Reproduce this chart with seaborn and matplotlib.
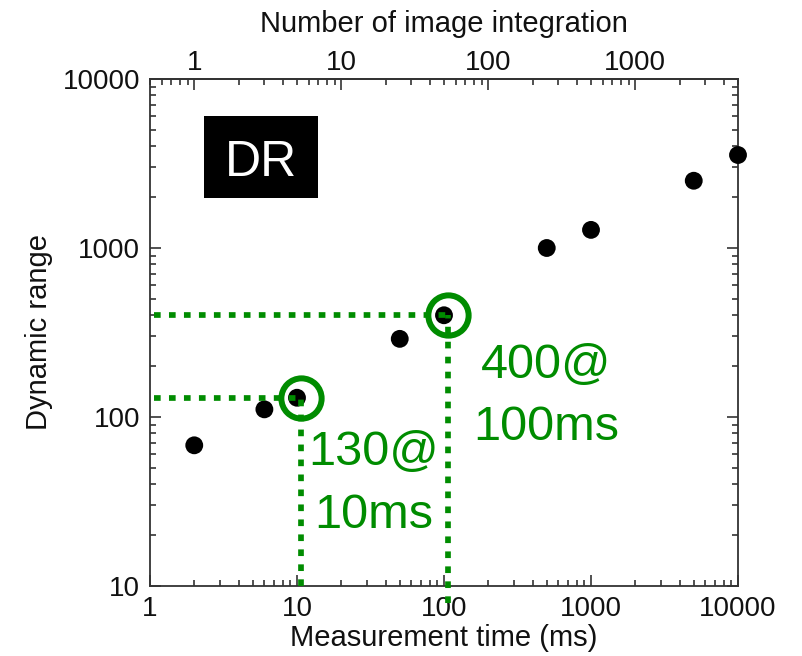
import matplotlib
matplotlib.use("Agg")
import matplotlib.pyplot as plt
from matplotlib.patches import Rectangle
from matplotlib.ticker import NullFormatter
import seaborn as sns
import pandas as pd

# ---- data ----
time_ms = [2, 6, 10, 50, 100, 500, 1000, 5000, 10000]
dynamic_range = [68, 111, 130, 290, 400, 1000, 1280, 2500, 3550]

highlight_time = [10.6, 106]
highlight_dr = [130, 400]
highlight_bottom = [10, 7.9]
highlight_line1 = ["130@", "400@"]
highlight_line2 = ["10ms", "100ms"]

x_ticks = [1, 10, 100, 1000, 10000]
y_ticks = [10, 100, 1000, 10000]
top_ticks = [1, 10, 100, 1000]

GREEN = "#008C00"
W, H = 802, 656

sns.set_theme(style="ticks")
plt.rcParams['font.family'] = ['Liberation Sans', 'DejaVu Sans']

fig = plt.figure(figsize=(W / 100, H / 100), dpi=100)
L, R, T, B = 150, 738, 79, 586
ax = fig.add_axes([L / W, 1 - B / H, (R - L) / W, (B - T) / H])

df = pd.DataFrame({"time": time_ms, "dr": dynamic_range})
sns.scatterplot(data=df, x="time", y="dr", ax=ax, color="black", s=165,
                edgecolor="none", clip_on=False, zorder=5, legend=False)

ax.set_xscale("log")
ax.set_yscale("log")
ax.set_xlim(1, 10000)
ax.set_ylim(10, 10000)

# highlight annotations
for hx, hy, yb in zip(highlight_time, highlight_dr, highlight_bottom):
    kw = dict(color=GREEN, lw=4.1, dashes=(1.17, 1.46), dash_capstyle="butt",
              clip_on=False, zorder=6)
    ax.plot([1.06, hx], [hy, hy], **kw)
    ax.plot([hx, hx], [yb, hy], **kw)
    ax.plot([hx], [hy], marker="o", ms=29, mfc="none", mec=GREEN, mew=4.3,
            linestyle="none", zorder=7, clip_on=False)

text_pos = [((374, 465), (374, 528)), ((546, 378), (546, 440))]
for (p1, p2), t1, t2 in zip(text_pos, highlight_line1, highlight_line2):
    fig.text(p1[0] / W, 1 - p1[1] / H, t1, color=GREEN, fontsize=35,
             ha="center", va="baseline")
    fig.text(p2[0] / W, 1 - p2[1] / H, t2, color=GREEN, fontsize=35,
             ha="center", va="baseline")

# DR label box
fig.patches.append(Rectangle((204 / W, 1 - 198 / H), (318 - 204) / W, (198 - 116) / H,
                             transform=fig.transFigure, facecolor="black",
                             edgecolor="none", zorder=10))
fig.text(261 / W, 1 - 176 / H, "DR", color="white", fontsize=36,
         ha="center", va="baseline", zorder=11)

# ticks & labels
ax.set_xticks(x_ticks, labels=[str(v) for v in x_ticks])
ax.set_yticks(y_ticks, labels=[str(v) for v in y_ticks])
ax.xaxis.set_minor_formatter(NullFormatter())
ax.yaxis.set_minor_formatter(NullFormatter())
ax.tick_params(which="both", direction="in", top=False, right=True,
               labelsize=20, pad=7, color="#333333", width=1.2,
               labelcolor="#111111")
ax.tick_params(which="major", length=8)
ax.tick_params(which="minor", length=4.5)
for s in ax.spines.values():
    s.set_color("#333333")
    s.set_linewidth(1.3)

ax.set_xlabel("Measurement time (ms)", fontsize=21, labelpad=2, color="#111111")
ax.set_ylabel("Dynamic range", fontsize=21, labelpad=7, color="#111111")

secax = ax.secondary_xaxis("top", functions=(lambda t: t / 2, lambda n: n * 2))
secax.set_xticks(top_ticks, labels=[str(v) for v in top_ticks])
secax.xaxis.set_minor_formatter(NullFormatter())
secax.tick_params(which="both", direction="in", labelsize=20, pad=2,
                  color="#333333", width=1.2, labelcolor="#111111")
secax.tick_params(which="major", length=8)
secax.tick_params(which="minor", length=4.5)
secax.spines["top"].set_color("#333333")
secax.spines["top"].set_linewidth(1.3)
secax.set_xlabel("Number of image integration", fontsize=21, labelpad=13,
                 color="#111111")

fig.savefig("out.png", dpi=100)
